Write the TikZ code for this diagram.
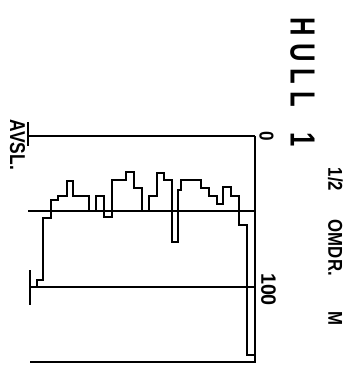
\documentclass[tikz,border=0pt]{standalone}
\usepackage{fontspec}
\setmainfont{Liberation Sans}
\tikzset{
  frame/.style={line width=1.6pt, line join=miter},
  thick0/.style={line width=2.2pt},
  prof/.style={line width=1.6pt, line join=miter},
  lbl/.style={inner sep=0pt, rotate=-90, anchor=center, font=\bfseries},
}
\begin{document}
\begin{tikzpicture}[x=1pt,y=-1pt]
\useasboundingbox (0,0) rectangle (360,367);
% axis coordinates
\coordinate (t0) at (28,136);
\coordinate (t1) at (255,136);
\coordinate (m0) at (28,211);
\coordinate (m1) at (255,211);
\coordinate (h0) at (30,287);
\coordinate (h1) at (255,287);
\coordinate (b0) at (30,362);
\coordinate (b1) at (255,362);
% horizontal lines
\draw[thick0] (t0) -- (t1);
\draw[frame] (m0) -- (m1);
\draw[frame] (h0) -- (h1);
\draw[frame] (b0) -- (b1) -- (t1);
% end ticks
\draw[thick0] (28,122) -- (28,146);
\draw[thick0] (30,270) -- (30,305);
% profile
\draw[prof] (37,287) -- (37,280) -- (43,280) -- (43,218) -- (51,218) -- (51,200) -- (58,200) -- (58,196) -- (67,196) -- (67,181) -- (73,181) -- (73,196) -- (89,196) -- (89,211) -- (96,211) -- (96,196) -- (104,196) -- (104,217) -- (112,217) -- (112,180) -- (126,180) -- (126,172) -- (134,172) -- (134,188) -- (142,188) -- (142,211) -- (149,211) -- (149,196) -- (157,196) -- (157,173) -- (164,173) -- (164,180) -- (172,180) -- (172,242) -- (178,242) -- (178,190) -- (181,190) -- (181,180) -- (201,180) -- (201,188) -- (209,188) -- (209,196) -- (217,196) -- (217,204) -- (223,204) -- (223,187) -- (231,187) -- (231,196) -- (239,196) -- (239,225) -- (247,225) -- (247,355) -- (255,355);
% labels
\node[lbl] (zero) at (266.5,136.5) {\resizebox{9.5pt}{14pt}{0}};
\node[lbl] (hundred) at (268.5,289.5) {\resizebox{33pt}{14.5pt}{100}};
\node[lbl] (title) at (302.5,82.5) {\resizebox{129pt}{24pt}{\fontsize{32}{32}\selectfont H\hspace{8.7pt}U\hspace{8.7pt}L\hspace{8.7pt}L\hspace{32pt}1}};
\node[lbl] (axis) at (335.5,246.5) {\resizebox{157pt}{14.5pt}{\fontsize{20}{20}\selectfont 1/2\hspace{34pt}OMDR.\hspace{42pt}M}};
\node[lbl] (avsl) at (17.5,145) {\resizebox{50pt}{15pt}{AVSL.}};
\end{tikzpicture}
\end{document}
